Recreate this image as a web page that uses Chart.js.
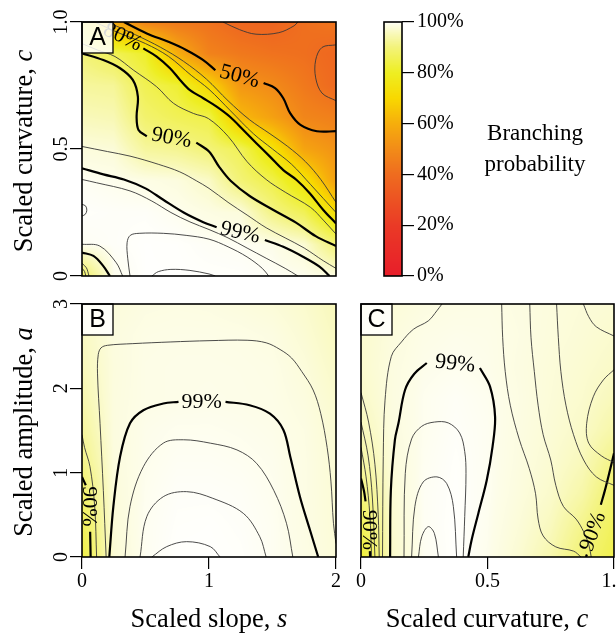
<!DOCTYPE html>
<html>
<head>
<meta charset="utf-8">
<script src="https://cdn.jsdelivr.net/npm/chart.js@4.4.1/dist/chart.umd.min.js"></script>
<style>
  html, body { margin: 0; padding: 0; background: #fff; }
  #wrap { position: relative; width: 616px; height: 636px; }
  #wrap canvas { position: absolute; left: 0; top: 0; }
</style>
</head>
<body>
<div id="wrap">
  <canvas id="panelA" width="616" height="636"></canvas>
  <canvas id="panelB" width="616" height="636"></canvas>
  <canvas id="panelC" width="616" height="636"></canvas>
  <canvas id="scaleBar" width="616" height="636"></canvas>
</div>
<script>
// ---- colour scale (branching probability, %) ----
const CMAP_V = [0, 20, 40, 50, 60, 70, 80, 90, 95, 99, 100];
const CMAP_C = ['#e81e2a', '#ea3a26', '#ef6c1f', '#f28c18', '#f6ae0c', '#f8d800', '#eeee22', '#f3f37a', '#f8f8b4', '#fdfde8', '#ffffff'];
const BAR_TICKS = [0, 20, 40, 60, 80, 100];

// ---- panel A: slope s (x) vs curvature c (y) ----
const A_S = [0, 0.25, 0.5, 0.75, 1, 1.25, 1.5, 1.75, 2];
const A_C = [1, 0.875, 0.75, 0.625, 0.5, 0.375, 0.25, 0.125, 0];
const A_P = [
  [80, 58, 47, 44, 42, 38, 37, 41, 43],
  [90, 86, 81, 60, 47, 44, 42, 41, 38],
  [93, 92.5, 85.5, 82, 70, 53, 49.5, 44, 39],
  [95.5, 95, 88.5, 86, 84.5, 63, 56, 48, 46],
  [98.1, 97.8, 93, 92, 89.6, 86, 74, 57, 52],
  [99.5, 99.2, 98.8, 98.3, 96.5, 89.5, 84.5, 74, 56],
  [99.8, 99.7, 99.7, 99.3, 98.6, 98.1, 91, 86, 72],
  [99.5, 99.7, 99.9, 99.85, 99.6, 99.5, 99.05, 97.5, 89.5],
  [88, 99.2, 99.9, 99.9, 99.85, 99.8, 99.6, 99.3, 98.5]
];
const A_40_TOP = [[1.11,1.0],[1.24,0.97],[1.37,0.952],[1.55,0.958],[1.67,0.985],[1.70,1.0]];
const A_40_RIGHT = [[2.0,0.91],[1.89,0.90],[1.84,0.85],[1.84,0.78],[1.89,0.72],[2.0,0.69]];
const A_50_L = [[0.33,1.0],[0.51,0.955],[0.69,0.92],[0.82,0.89],[0.955,0.85],[1.05,0.81]];
const A_50_R = [[1.43,0.76],[1.52,0.74],[1.585,0.70],[1.64,0.64],[1.72,0.595],[1.85,0.57],[2.0,0.57]];
const A_60 = [[0.2,1.0],[0.42,0.95],[0.62,0.90],[0.80,0.845],[0.98,0.775],[1.15,0.69],[1.32,0.615],[1.48,0.56],[1.62,0.51],[1.76,0.45],[1.88,0.38],[2.0,0.29]];
const A_70 = [[0.1,1.0],[0.3,0.955],[0.5,0.915],[0.68,0.865],[0.86,0.79],[1.0,0.735],[1.17,0.65],[1.35,0.56],[1.5,0.50],[1.65,0.44],[1.8,0.36],[2.0,0.25]];
const A_80 = [[0.483,0.896],[0.588,0.864],[0.693,0.818],[0.772,0.772],[0.85,0.732],[0.955,0.70],[1.06,0.667],[1.165,0.627],[1.27,0.575],[1.375,0.522],[1.48,0.47],[1.585,0.417],[1.69,0.378],[1.795,0.325],[1.90,0.26],[2.0,0.207]];
const A_85 = [[0,0.915],[0.12,0.89],[0.26,0.864],[0.404,0.811],[0.588,0.745],[0.72,0.68],[0.877,0.64],[0.995,0.62],[1.15,0.55],[1.3,0.45],[1.45,0.38],[1.6,0.33],[1.8,0.27],[1.9,0.22],[2.0,0.165]];
const A_90_L = [[0,0.877],[0.168,0.85],[0.30,0.818],[0.40,0.772],[0.44,0.706],[0.43,0.627],[0.445,0.575],[0.51,0.55]];
const A_90_R = [[0.90,0.525],[1.0,0.49],[1.08,0.43],[1.17,0.375],[1.32,0.315],[1.50,0.262],[1.685,0.21],[1.84,0.157],[2.0,0.118]];
const A_98 = [[0,0.51],[0.2,0.49],[0.378,0.472],[0.60,0.44],[0.77,0.41],[0.90,0.375],[1.0,0.345],[1.15,0.29],[1.3,0.24],[1.45,0.19],[1.6,0.15],[1.75,0.11],[1.9,0.06],[2.0,0.03]];
const A_99_L = [[0,0.424],[0.168,0.40],[0.33,0.38],[0.5,0.345],[0.64,0.30],[0.80,0.25],[0.955,0.212],[1.06,0.192]];
const A_99_R = [[1.44,0.142],[1.585,0.115],[1.74,0.076],[1.87,0.037],[1.95,0.0]];
const A_995 = [[0,0.38],[0.115,0.367],[0.378,0.335],[0.55,0.295],[0.70,0.25],[0.85,0.213],[1.0,0.183],[1.15,0.15],[1.3,0.11],[1.45,0.07],[1.6,0.03],[1.7,0.0]];
const A_BUMP = [[0,0.282],[0.028,0.276],[0.038,0.259],[0.026,0.243],[0,0.236]];
const A_U = [[0.378,0.0],[0.36,0.07],[0.355,0.131],[0.38,0.16],[0.45,0.168],[0.64,0.168],[0.82,0.16],[1.0,0.145],[1.15,0.115],[1.3,0.075],[1.42,0.03],[1.47,0.0]];
const A_ARC = [[0.55,0.0],[0.60,0.017],[0.70,0.026],[0.85,0.022],[1.0,0.008],[1.05,0.0]];
const A_CORNER_99 = [[0,0.092],[0.09,0.079],[0.168,0.039],[0.22,0.0]];
const A_CORNER_995 = [[0,0.125],[0.14,0.118],[0.27,0.052],[0.32,0.0]];
const A_CORNER_90 = [[0,0.05],[0.035,0.032],[0.055,0.0]];
const A_CORNER_80 = [[0,0.03],[0.02,0.018],[0.03,0.0]];
const A_LABELS = [
  { t: '50%', x: 1.24, y: 0.785, r: 15 },
  { t: '80%', x: 0.32, y: 0.94, r: 25 },
  { t: '90%', x: 0.705, y: 0.543, r: 10 },
  { t: '99%', x: 1.245, y: 0.17, r: 13 }
];

// ---- panel B: slope s (x) vs amplitude a (y) ----
const B_S = [0, 0.25, 0.5, 0.75, 1, 1.25, 1.5, 1.75, 2];
const B_A = [3, 2.625, 2.25, 1.875, 1.5, 1.125, 0.75, 0.375, 0];
const B_P = [
  [96, 98, 98.5, 98.6, 98.5, 98.2, 97.8, 97, 95.5],
  [96, 98.3, 98.8, 98.9, 98.9, 98.8, 98.5, 97.5, 96],
  [95.5, 98.2, 98.9, 99, 99, 98.95, 98.8, 98, 96.5],
  [94.5, 98.3, 98.9, 99.0, 99.05, 99.0, 98.9, 98.3, 97],
  [93, 98.3, 99.1, 99.3, 99.3, 99.2, 99.05, 98.6, 97.3],
  [91, 98.2, 99.2, 99.5, 99.5, 99.4, 99.2, 98.7, 97.5],
  [88, 98, 99.3, 99.7, 99.7, 99.6, 99.3, 98.7, 97.6],
  [86, 97.8, 99.4, 99.8, 99.85, 99.7, 99.4, 98.7, 97.7],
  [84, 97.5, 99.4, 99.9, 99.9, 99.8, 99.4, 98.8, 97.8]
];
const B_98 = [[0.19,0.0],[0.168,0.79],[0.142,1.585],[0.122,2.18],[0.128,2.40],[0.15,2.48],[0.20,2.51],[0.40,2.53],[0.70,2.55],[1.0,2.565],[1.30,2.57],[1.45,2.54],[1.56,2.46],[1.65,2.36],[1.73,2.20],[1.82,1.98],[1.88,1.70],[1.93,1.30],[1.96,0.90],[1.98,0.40],[2.0,0.16]];
const B_99_L = [[0.215,0.0],[0.247,0.60],[0.30,1.19],[0.378,1.585],[0.483,1.74],[0.64,1.82],[0.76,1.84]];
const B_99_R = [[1.13,1.84],[1.32,1.80],[1.48,1.70],[1.585,1.51],[1.64,1.19],[1.716,0.715],[1.795,0.32],[1.86,0.0]];
const B_IN1 = [[0.339,0.0],[0.378,0.60],[0.483,1.07],[0.64,1.35],[0.80,1.39],[1.01,1.35],[1.22,1.27],[1.375,1.11],[1.51,0.79],[1.61,0.40],[1.66,0.0]];
const B_IN2 = [[0.457,0.0],[0.51,0.478],[0.64,0.715],[0.824,0.775],[1.03,0.696],[1.27,0.518],[1.40,0.24],[1.45,0.0]];
const B_IN3 = [[0.55,0.0],[0.667,0.123],[0.824,0.182],[1.01,0.123],[1.087,0.0]];
const B_95 = [[0.0,1.45],[0.02,1.30],[0.063,1.07],[0.10,0.60],[0.115,0.0]];
const B_90_T = [[0,0.95],[0.03,0.85]];
const B_90_B = [[0.064,0.3],[0.068,0.0]];
const B_LABELS = [
  { t: '99%', x: 0.942, y: 1.84, r: 0 },
  { t: '90%', x: 0.05, y: 0.60, r: 90 }
];

// ---- panel C: curvature c (x) vs amplitude a (y) ----
const C_C = [0, 0.125, 0.25, 0.375, 0.5, 0.625, 0.75, 0.875, 1];
const C_A = [3, 2.625, 2.25, 1.875, 1.5, 1.125, 0.75, 0.375, 0];
const C_P = [
  [96.5, 97.8, 98.4, 98.7, 98.8, 98.5, 98.2, 97.8, 97.5],
  [97, 98.2, 98.9, 99.1, 99.0, 98.6, 98.1, 97.6, 97],
  [97, 98.4, 99.1, 99.3, 99.1, 98.5, 97.9, 97.3, 96.5],
  [96.5, 98.4, 99.3, 99.6, 99.3, 98.6, 97.8, 97, 95.5],
  [95.5, 98.3, 99.3, 99.7, 99.4, 98.5, 97.6, 96.5, 94],
  [93.5, 98, 99.4, 99.8, 99.4, 98.4, 97.3, 95.5, 91],
  [90, 97.6, 99.5, 99.85, 99.4, 98.2, 96.8, 94, 88.5],
  [86, 97.2, 99.5, 99.9, 99.3, 97.8, 95.8, 91.5, 86.5],
  [82, 96.8, 99.4, 99.9, 99.2, 97.3, 94.5, 89.5, 85]
];
const C_99_L = [[0.115,0.0],[0.118,0.79],[0.134,1.39],[0.148,1.585],[0.174,1.98],[0.21,2.17],[0.26,2.30]];
const C_99_R = [[0.47,2.24],[0.51,2.02],[0.53,1.66],[0.52,1.31],[0.497,0.91],[0.464,0.52],[0.437,0.20],[0.424,0.0]];
const C_U1 = [[0.17,0.0],[0.175,0.99],[0.20,1.40],[0.24,1.55],[0.29,1.60],[0.345,1.59],[0.39,1.47],[0.41,1.25],[0.415,0.99],[0.41,0.48],[0.404,0.0]];
const C_U2 = [[0.20,0.0],[0.213,0.60],[0.246,0.89],[0.30,0.95],[0.339,0.87],[0.365,0.60],[0.378,0.0]];
const C_U3 = [[0.227,0.0],[0.24,0.24],[0.266,0.36],[0.29,0.28],[0.306,0.0]];
const C_OUTER = [[0.085,0.0],[0.088,1.19],[0.095,1.86],[0.12,2.38],[0.16,2.55],[0.207,2.70],[0.266,2.80],[0.30,2.92],[0.32,3.0]];
const C_F1 = [[0,1.95],[0.03,1.6],[0.055,1.1],[0.068,0.5],[0.072,0.0]];
const C_F2 = [[0,1.6],[0.028,1.2],[0.045,0.7],[0.055,0.0]];
const C_F3 = [[0,1.3],[0.02,0.95],[0.035,0.5],[0.042,0.0]];
const C_90L_T = [[0,0.93],[0.012,0.78],[0.018,0.66]];
const C_90L_B = [[0.035,0.07],[0.036,0.0]];
const C_R1 = [[0.556,3.0],[0.56,2.6],[0.57,2.2],[0.59,1.8],[0.625,1.4],[0.665,1.05],[0.69,0.75],[0.70,0.45],[0.72,0.25],[0.77,0.12],[0.84,0.07],[0.87,0.0]];
const C_R2 = [[0.667,3.0],[0.672,2.6],[0.685,2.2],[0.70,1.8],[0.72,1.45],[0.75,1.15],[0.77,0.85],[0.80,0.6],[0.85,0.45],[0.88,0.3],[0.90,0.15],[0.91,0.0]];
const C_R3 = [[0.773,3.0],[0.78,2.6],[0.79,2.2],[0.81,1.8],[0.84,1.45],[0.88,1.15],[0.93,0.95],[1.0,0.85]];
const C_TR = [[0.879,3.0],[0.90,2.85],[0.93,2.73],[1.0,2.62]];
const C_RE = [[1.0,2.22],[0.958,2.10],[0.918,1.90],[0.892,1.585],[0.90,1.35],[0.95,1.2],[1.0,1.12]];
const C_90R_T = [[1.0,1.23],[0.984,1.03],[0.964,0.79],[0.948,0.62]];
const C_90R_B = [[0.893,0.03],[0.889,0.0]];
const C_LABELS = [
  { t: '99%', x: 0.372, y: 2.29, r: 6 },
  { t: '90%', x: 0.03, y: 0.32, r: 90 },
  { t: '90%', x: 0.918, y: 0.30, r: -70 }
];

const SERIF = "'Liberation Serif', 'Times New Roman', serif";
const SANS = "'Liberation Sans', Arial, sans-serif";

function hex(h) {
  return [parseInt(h.slice(1, 3), 16), parseInt(h.slice(3, 5), 16), parseInt(h.slice(5, 7), 16)];
}
const CMAP_RGB = CMAP_C.map(hex);
function colorFor(v) {
  for (let i = 1; i < CMAP_V.length; i++) {
    if (v <= CMAP_V[i]) {
      const t = Math.max(0, (v - CMAP_V[i - 1]) / (CMAP_V[i] - CMAP_V[i - 1]));
      const a = CMAP_RGB[i - 1], b = CMAP_RGB[i];
      return [a[0] + (b[0] - a[0]) * t, a[1] + (b[1] - a[1]) * t, a[2] + (b[2] - a[2]) * t];
    }
  }
  return CMAP_RGB[CMAP_RGB.length - 1];
}

// position of v inside a monotone list of grid coordinates
function cell(arr, v) {
  const n = arr.length;
  for (let i = 0; i < n - 1; i++) {
    const t = (v - arr[i]) / (arr[i + 1] - arr[i]);
    if (t >= 0 && t <= 1) return [i, t];
  }
  const asc = arr[n - 1] > arr[0];
  return ((v < arr[0]) === asc) ? [0, 0] : [n - 2, 1];
}
function sample(xs, ys, vals, x, y) {
  const [i, tx] = cell(xs, x), [j, ty] = cell(ys, y);
  const top = vals[j][i] * (1 - tx) + vals[j][i + 1] * tx;
  const bot = vals[j + 1][i] * (1 - tx) + vals[j + 1][i + 1] * tx;
  return top * (1 - ty) + bot * ty;
}

function drawMixed(ctx, parts, x, y, rot, size) {
  ctx.save();
  ctx.translate(x, y);
  ctx.rotate(rot);
  ctx.fillStyle = '#000';
  ctx.textBaseline = 'middle';
  ctx.textAlign = 'left';
  const fonts = parts.map(p => (p[1] ? 'italic ' : '') + size + 'px ' + SERIF);
  let total = 0;
  parts.forEach((p, i) => { ctx.font = fonts[i]; total += ctx.measureText(p[0]).width; });
  let cx = -total / 2;
  parts.forEach((p, i) => { ctx.font = fonts[i]; ctx.fillText(p[0], cx, 0); cx += ctx.measureText(p[0]).width; });
  ctx.restore();
}

function heatPlugin(xs, ys, vals) {
  return {
    id: 'heat',
    beforeDatasetsDraw(chart) {
      const a = chart.chartArea, ctx = chart.ctx;
      const sx = chart.scales.x, sy = chart.scales.y;
      const L = Math.round(a.left), T = Math.round(a.top);
      const W = Math.round(a.right) - L, H = Math.round(a.bottom) - T;
      const img = ctx.createImageData(W, H);
      for (let py = 0; py < H; py++) {
        const yv = sy.getValueForPixel(T + py + 0.5);
        for (let px = 0; px < W; px++) {
          const xv = sx.getValueForPixel(L + px + 0.5);
          const c = colorFor(sample(xs, ys, vals, xv, yv));
          const k = (py * W + px) * 4;
          img.data[k] = c[0]; img.data[k + 1] = c[1]; img.data[k + 2] = c[2]; img.data[k + 3] = 255;
        }
      }
      ctx.putImageData(img, L, T);
    }
  };
}

function marksPlugin(labels, letter, titles) {
  return {
    id: 'marks',
    afterDatasetsDraw(chart) {
      const ctx = chart.ctx, a = chart.chartArea;
      const sx = chart.scales.x, sy = chart.scales.y;
      ctx.save();
      ctx.fillStyle = '#000';
      ctx.font = '22px ' + SERIF;
      ctx.textAlign = 'center';
      ctx.textBaseline = 'middle';
      labels.forEach(l => {
        ctx.save();
        ctx.translate(sx.getPixelForValue(l.x), sy.getPixelForValue(l.y));
        ctx.rotate(l.r * Math.PI / 180);
        ctx.fillText(l.t, 0, 0);
        ctx.restore();
      });
      // panel letter
      ctx.fillStyle = 'rgba(255,255,255,0.85)';
      ctx.fillRect(a.left, a.top, 31, 31);
      ctx.strokeStyle = '#000';
      ctx.lineWidth = 1.3;
      ctx.strokeRect(a.left, a.top, 31, 31);
      ctx.fillStyle = '#000';
      ctx.font = '25px ' + SANS;
      ctx.fillText(letter, a.left + 15.5, a.top + 16.5);
      // frame
      ctx.lineWidth = 1.6;
      ctx.strokeRect(a.left, a.top, a.right - a.left, a.bottom - a.top);
      ctx.restore();
    },
    afterDraw(chart) {
      titles.forEach(t => drawMixed(chart.ctx, t.parts, t.x, t.y, t.rot, 26.5));
    }
  };
}

function toDatasets(lines) {
  return lines.map(l => ({
    data: l[0].map(p => ({ x: p[0], y: p[1] })),
    showLine: true,
    pointRadius: 0,
    tension: 0.35,
    borderColor: l[1] ? '#000' : '#383838',
    borderWidth: l[1] ? 2.2 : 0.9
  }));
}

function axis(min, max, step, show, pos, size, pad, rotated) {
  return {
    type: 'linear', min: min, max: max, display: show, position: pos,
    ticks: {
      stepSize: step, autoSkip: false, color: '#000', padding: pad,
      font: { family: SERIF, size: 20 },
      minRotation: rotated ? 90 : 0, maxRotation: rotated ? 90 : 0,
      crossAlign: rotated ? 'center' : 'near'
    },
    grid: { drawOnChartArea: false, drawTicks: true, tickLength: 12, color: '#000', lineWidth: 1.2 },
    border: { display: false },
    afterFit: s => {
      if (!show) return;
      if (pos === 'bottom') { s.height = size; s.paddingLeft = 0; s.paddingRight = 0; }
      else { s.width = size; s.paddingTop = 0; s.paddingBottom = 0; }
    }
  };
}

function panel(id, cfg) {
  return new Chart(document.getElementById(id), {
    type: 'scatter',
    data: { datasets: toDatasets(cfg.lines) },
    options: {
      responsive: false, animation: false, devicePixelRatio: 1, events: [],
      layout: { padding: cfg.pad },
      plugins: { legend: { display: false }, tooltip: { enabled: false } },
      scales: { x: cfg.x, y: cfg.y }
    },
    plugins: [heatPlugin(cfg.gx, cfg.gy, cfg.gv), marksPlugin(cfg.labels, cfg.letter, cfg.titles)]
  });
}

panel('panelA', {
  pad: { left: 0, top: 22, right: 280, bottom: 360 },
  x: axis(0, 2, 1, false, 'bottom', 79, 1, false),
  y: axis(0, 1, 0.5, true, 'left', 82, -4.5, true),
  gx: A_S, gy: A_C, gv: A_P,
  lines: [[A_40_TOP, 0], [A_40_RIGHT, 0], [A_50_L, 1], [A_50_R, 1], [A_60, 0], [A_70, 0], [A_80, 1], [A_85, 0],
    [A_90_L, 1], [A_90_R, 1], [A_98, 0], [A_99_L, 1], [A_99_R, 1], [A_995, 0], [A_BUMP, 0], [A_U, 0], [A_ARC, 0],
    [A_CORNER_99, 1], [A_CORNER_995, 0], [A_CORNER_90, 0], [A_CORNER_80, 0]],
  labels: A_LABELS, letter: 'A',
  titles: [{ parts: [['Scaled curvature, ', false], ['c', true]], x: 25, y: 151, rot: -Math.PI / 2 }]
});

panel('panelB', {
  pad: { left: 0, top: 304, right: 280, bottom: 0 },
  x: axis(0, 2, 1, true, 'bottom', 79, 1, false),
  y: axis(0, 3, 1, true, 'left', 82, 3, true),
  gx: B_S, gy: B_A, gv: B_P,
  lines: [[B_98, 0], [B_99_L, 1], [B_99_R, 1], [B_IN1, 0], [B_IN2, 0], [B_IN3, 0], [B_95, 0], [B_90_T, 1], [B_90_B, 1]],
  labels: B_LABELS, letter: 'B',
  titles: [
    { parts: [['Scaled amplitude, ', false], ['a', true]], x: 25, y: 432, rot: -Math.PI / 2 },
    { parts: [['Scaled slope, ', false], ['s', true]], x: 209, y: 620, rot: 0 }
  ]
});

panel('panelC', {
  pad: { left: 361, top: 304, right: 2, bottom: 0 },
  x: axis(0, 1, 0.5, true, 'bottom', 79, 1, false),
  y: axis(0, 3, 1, false, 'left', 0, 3, true),
  gx: C_C, gy: C_A, gv: C_P,
  lines: [[C_99_L, 1], [C_99_R, 1], [C_U1, 0], [C_U2, 0], [C_U3, 0], [C_OUTER, 0], [C_F1, 0], [C_F2, 0], [C_F3, 0],
    [C_90L_T, 1], [C_90L_B, 1], [C_R1, 0], [C_R2, 0], [C_R3, 0], [C_TR, 0], [C_RE, 0], [C_90R_T, 1], [C_90R_B, 1]],
  labels: C_LABELS, letter: 'C',
  titles: [{ parts: [['Scaled curvature, ', false], ['c', true]], x: 487, y: 620, rot: 0 }]
});

// colour bar
new Chart(document.getElementById('scaleBar'), {
  type: 'scatter',
  data: { datasets: [] },
  options: {
    responsive: false, animation: false, devicePixelRatio: 1, events: [],
    layout: { padding: { left: 384, top: 22, right: 0, bottom: 360 } },
    plugins: { legend: { display: false }, tooltip: { enabled: false } },
    scales: {
      x: { type: 'linear', min: 0, max: 1, display: false },
      y: {
        type: 'linear', position: 'right', min: 0, max: 100,
        afterBuildTicks: s => { s.ticks = BAR_TICKS.map(v => ({ value: v })); },
        ticks: { color: '#000', padding: 3, font: { family: SERIF, size: 20 }, callback: v => v + '%' },
        grid: { drawOnChartArea: false, drawTicks: true, tickLength: 12, color: '#000', lineWidth: 1.2 },
        border: { display: false },
        afterFit: s => { s.width = 214; s.paddingTop = 0; s.paddingBottom = 0; }
      }
    }
  },
  plugins: [{
    id: 'bar',
    beforeDatasetsDraw(chart) {
      const ctx = chart.ctx, a = chart.chartArea, sy = chart.scales.y;
      for (let py = Math.round(a.top); py < Math.round(a.bottom); py++) {
        const c = colorFor(sy.getValueForPixel(py + 0.5));
        ctx.fillStyle = 'rgb(' + c.map(Math.round).join(',') + ')';
        ctx.fillRect(a.left, py, a.right - a.left, 1);
      }
      ctx.strokeStyle = '#000';
      ctx.lineWidth = 1.6;
      ctx.strokeRect(a.left, a.top, a.right - a.left, a.bottom - a.top);
      ctx.fillStyle = '#000';
      ctx.font = '23px ' + SERIF;
      ctx.textAlign = 'center';
      ctx.textBaseline = 'middle';
      ctx.fillText('Branching', 535, 134);
      ctx.fillText('probability', 535, 165);
    }
  }]
});
</script>
</body>
</html>
